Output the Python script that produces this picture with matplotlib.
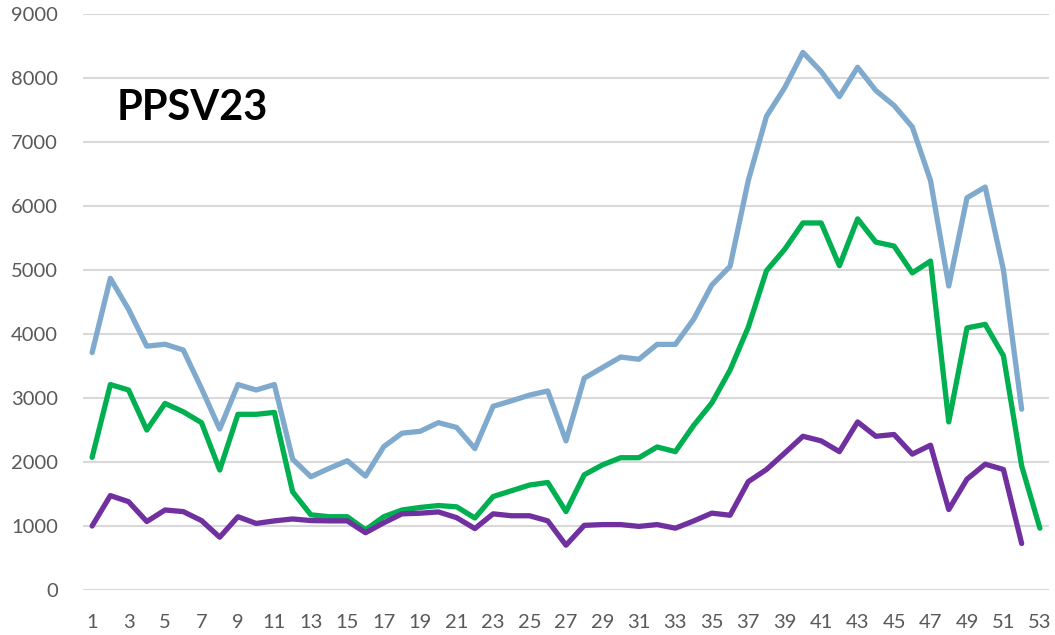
import matplotlib
matplotlib.use("Agg")
import matplotlib.pyplot as plt

weeks = list(range(1, 54))

blue = [3710, 4870, 4385, 3810, 3840, 3750, 3150, 2515, 3210, 3125,
        3210, 2045, 1770, 1900, 2020, 1780, 2240, 2450, 2480, 2615,
        2540, 2210, 2870, 2955, 3045, 3110, 2330, 3310, 3475, 3640,
        3605, 3838, 3838, 4229, 4765, 5056, 6397, 7402, 7849, 8400,
        8101, 7709, 8168, 7804, 7570, 7235, 6397, 4750, 6128, 6296,
        5000, 2825]

green = [2073, 3210, 3125, 2500, 2915, 2785, 2615, 1875, 2745, 2745,
         2775, 1535, 1175, 1145, 1145, 940, 1145, 1250, 1290, 1320,
         1300, 1125, 1460, 1550, 1640, 1680, 1225, 1800, 1955, 2067,
         2067, 2235, 2162, 2570, 2922, 3436, 4106, 4989, 5324, 5735,
         5735, 5067, 5799, 5436, 5374, 4955, 5140, 2626, 4095, 4151,
         3659, 1939, 966]

purple = [1000, 1475, 1380, 1070, 1250, 1225, 1085, 825, 1145, 1040,
          1080, 1110, 1085, 1080, 1080, 895, 1050, 1190, 1200, 1220,
          1130, 960, 1190, 1160, 1160, 1080, 700, 1010, 1022, 1022,
          994, 1022, 966, 1078, 1201, 1168, 1693, 1883, 2140, 2402,
          2330, 2162, 2626, 2402, 2430, 2123, 2263, 1257, 1732, 1966,
          1883, 726]

xticks = list(range(1, 54, 2))
yticks = list(range(0, 9001, 1000))
title = "PPSV23"

plt.rcParams['font.family'] = ['Lato', 'DejaVu Sans']

fig = plt.figure(figsize=(10.55, 6.35), dpi=100)
ax = fig.add_axes([83/1055, 1 - 590/635, (1049 - 83)/1055, (590 - 14)/635])

ax.plot(weeks[:len(blue)], blue, color='#7FA9CD', lw=3.8, solid_joinstyle='round', solid_capstyle='round', zorder=3)
ax.plot(weeks[:len(green)], green, color='#00B050', lw=3.8, solid_joinstyle='round', solid_capstyle='round', zorder=3)
ax.plot(weeks[:len(purple)], purple, color='#7030A0', lw=3.8, solid_joinstyle='round', solid_capstyle='round', zorder=3)

ax.set_xlim(0.5, 53.5)
ax.set_ylim(0, 9000)
ax.set_xticks(xticks)
ax.set_xticklabels([str(t) for t in xticks])
ax.set_yticks(yticks)
ax.set_yticklabels([str(t) for t in yticks])
ax.tick_params(axis='both', length=0, colors='#595959', labelsize=14.5)
ax.tick_params(axis='y', pad=18)
ax.tick_params(axis='x', pad=17)
ax.yaxis.grid(True, color='#D9D9D9', lw=1.5, zorder=0)
ax.set_axisbelow(True)
for s in ax.spines.values():
    s.set_visible(False)

fig.text(117/1055, 1 - 108/635, title, fontsize=30, fontweight='bold', color='black',
         ha='left', va='center')

fig.savefig('out.png', dpi=100)
